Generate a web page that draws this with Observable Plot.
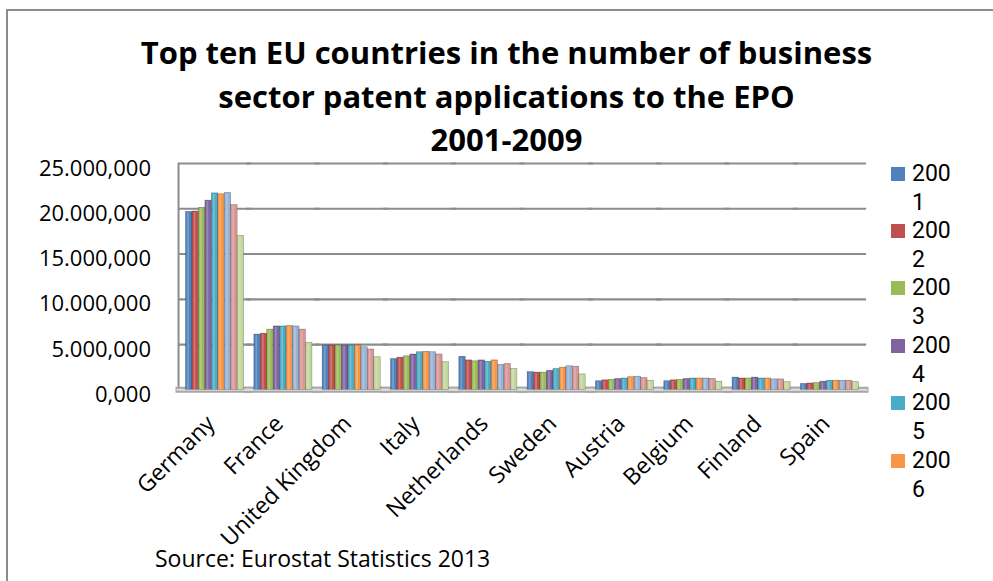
<!DOCTYPE html>
<html>
<head>
<meta charset="utf-8">
<script src="https://cdn.jsdelivr.net/npm/d3@7"></script>
<script src="https://cdn.jsdelivr.net/npm/@observablehq/plot@0.6"></script>
<style>
  html, body { margin: 0; padding: 0; background: #fff; }
  #wrap { position: relative; width: 993px; height: 581px; overflow: hidden; background: #fff; font-family: "Open Sans", sans-serif; color: #000; }
  #border { position: absolute; left: 6px; top: 9px; width: 1200px; height: 800px; border-top: 2px solid #8c8c8c; border-left: 2px solid #8c8c8c; }
  #title { position: absolute; left: 20px; top: 31px; width: 973px; text-align: center; font-weight: 700; font-size: 31px; line-height: 43.5px; }
  #chart { position: absolute; left: 0; top: 150px; }
  #legend { position: absolute; left: 891px; top: 161.6px; width: 100px; font-family: Roboto, sans-serif; }
  .item { position: relative; height: 57.4px; }
  .sw { position: absolute; left: 0; top: 5px; width: 14px; height: 14px; }
  .l1, .l2 { position: absolute; left: 21px; font-size: 23px; line-height: 23px; height: 23px; white-space: nowrap; }
  .l1 { top: 0; }
  .l2 { top: 29px; }
  #source { position: absolute; left: 155px; top: 543px; font-size: 23px; line-height: 31px; }
</style>
</head>
<body>
<div id="wrap">
  <div id="border"></div>
  <div id="title"></div>
  <div id="chart"></div>
  <div id="legend"></div>
  <div id="source"></div>
</div>
<script>
const titleLines = ["Top ten EU countries in the number of business", "sector patent applications to the EPO", "2001-2009"];
const sourceText = "Source: Eurostat Statistics 2013";
const countries = ["Germany", "France", "United Kingdom", "Italy", "Netherlands", "Sweden", "Austria", "Belgium", "Finland", "Spain"];
const years = ["2001", "2002", "2003", "2004", "2005", "2006", "2007", "2008", "2009"];
// the reference legend is clipped after its sixth entry
const legendYears = years.slice(0, 6);
const yTicks = [0, 5000, 10000, 15000, 20000, 25000];
const colors = ["#4F81BD", "#C0504D", "#9BBB59", "#8064A2", "#4BACC6", "#F79646", "#95B3D7", "#D99694", "#C3D69B"];

// values per country, 2001..2009
const germany       = [19650, 19700, 20100, 20900, 21700, 21600, 21750, 20400, 17000];
const france        = [6100, 6200, 6650, 7000, 7000, 7050, 7000, 6650, 5200];
const unitedKingdom = [4900, 4900, 4900, 4900, 4900, 4900, 4700, 4450, 3600];
const italy         = [3400, 3550, 3700, 3900, 4150, 4200, 4150, 3900, 3050];
const netherlands   = [3650, 3250, 3150, 3250, 3100, 3250, 2750, 2850, 2300];
const sweden        = [1950, 1900, 1900, 2100, 2300, 2450, 2600, 2550, 1700];
const austria       = [950, 1050, 1100, 1200, 1250, 1400, 1450, 1300, 1000];
const belgium       = [950, 1050, 1100, 1200, 1250, 1250, 1250, 1200, 900];
const finland       = [1350, 1250, 1250, 1350, 1250, 1250, 1150, 1150, 850];
const spain         = [650, 700, 750, 900, 1000, 1000, 1000, 1000, 850];

const series = [germany, france, unitedKingdom, italy, netherlands, sweden, austria, belgium, finland, spain];
const table = [];
countries.forEach((c, i) => years.forEach((y, j) => table.push({country: c, year: y, value: series[i][j]})));

const fmt = d3.formatLocale({decimal: ",", thousands: ".", grouping: [3], currency: ["", ""]}).format(",.3f");

document.getElementById("title").innerHTML = titleLines.join("<br>");
document.getElementById("source").textContent = sourceText;

const leg = document.getElementById("legend");
legendYears.forEach((y, j) => {
  const it = document.createElement("div");
  it.className = "item";
  it.innerHTML = `<div class="sw" style="background:${colors[j]}"></div><div class="l1">${y.slice(0, 3)}</div><div class="l2">${y.slice(3)}</div>`;
  leg.appendChild(it);
});

const gridStyle = {stroke: "#8c8c8c", strokeWidth: 2.2, insetLeft: -7.6, insetRight: -7.6};

const chart = Plot.plot({
  width: 993,
  height: 420,
  marginTop: 13,
  marginBottom: 180.7,
  marginLeft: 178,
  marginRight: 127,
  style: {fontFamily: "Open Sans, sans-serif", fontSize: "22px", color: "#000", background: "transparent", overflow: "visible"},
  fx: {domain: countries, paddingInner: 0.15, paddingOuter: 0.11, round: false, label: null},
  x: {domain: years, padding: 0, round: false, axis: null},
  y: {domain: [0, 25000], label: null},
  color: {domain: years, range: colors},
  marks: [
    Plot.ruleY(yTicks.slice(1), gridStyle),
    Plot.ruleX([{country: countries[0], year: years[0]}], {fx: "country", x: "year", y1: 0, y2: 25000, dx: -10.7, stroke: "#8c8c8c", strokeWidth: 2}),
    Plot.ruleY([0], {stroke: "#a6a6a6", strokeWidth: 6, insetLeft: -10, insetRight: -10}),
    Plot.ruleY([0], {stroke: "#dcdcdc", strokeWidth: 2, insetLeft: -9, insetRight: -9}),
    Plot.barY(table, {fx: "country", x: "year", y: "value", fill: "year", stroke: "rgba(0,0,0,0.35)", strokeWidth: 0.6}),
    Plot.barY(table, {fx: "country", x: "year", y: "value", fill: "white", fillOpacity: 0.22, insetLeft: 1.6, insetRight: 3, insetTop: 1}),
    Plot.axisY(yTicks, {tickFormat: fmt, tickSize: 0, tickPadding: 35, dy: 5, label: null}),
    Plot.axisFx({anchor: "bottom", tickRotate: -45, tickSize: 0, tickPadding: 30, dx: -4, fontSize: 23, label: null})
  ]
});
document.getElementById("chart").appendChild(chart);
</script>
</body>
</html>
